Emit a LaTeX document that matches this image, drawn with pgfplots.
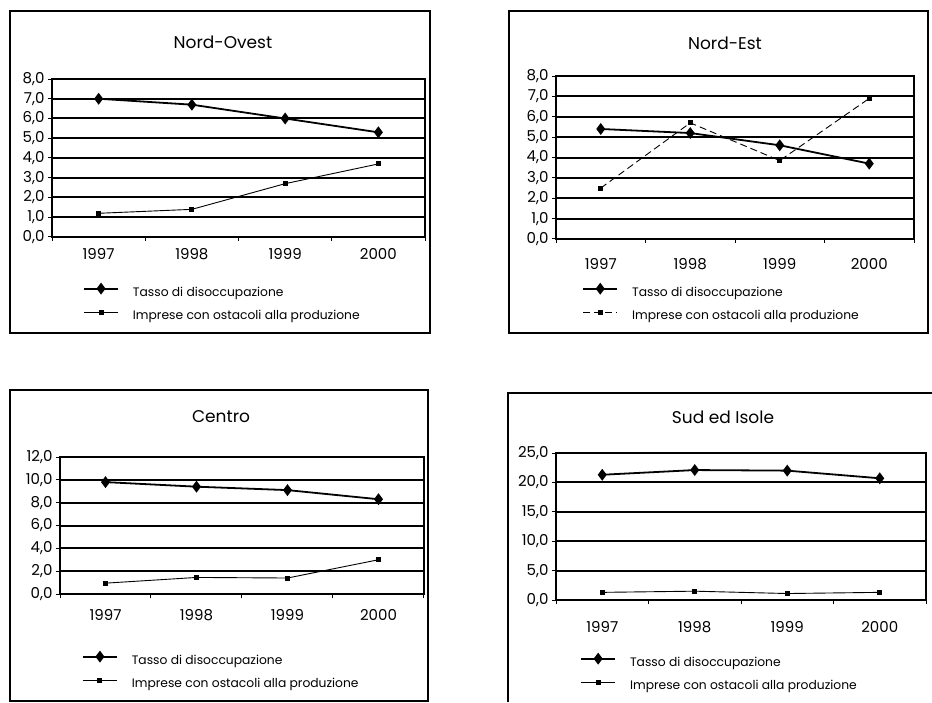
\documentclass[border=0pt]{standalone}
\usepackage{fontspec}
\setmainfont{Poppins}
\usepackage{pgfplots}
\pgfplotsset{compat=1.18}

\pgfplotsset{
  panel/.style={
    scale only axis,
    anchor=south west,
    xmin=-0.5, xmax=3.5,
    ymin=0,
    xtick={-0.5,0.5,1.5,2.5,3.5},
    xticklabels={},
    extra x ticks={0,1,2,3},
    extra x tick labels={1997,1998,1999,2000},
    extra x tick style={major tick length=0pt, grid=none},
    xtick pos=bottom, ytick pos=left,
    tick align=outside,
    major tick length=4pt,
    tick style={black, line width=1pt},
    ymajorgrids,
    major grid style={black, line width=2pt},
    axis line style={black, line width=1.2pt},
    /pgf/number format/assume math mode=true,
    yticklabel style={/pgf/number format/.cd, fixed, fixed zerofill, precision=1, use comma},
    ticklabel style={font=\fontsize{15}{15}\selectfont},
    legend style={draw=none, fill=none, inner sep=0pt, anchor=north west,
      font=\fontsize{12.3}{12.3}\selectfont, column sep=12pt, row sep=9pt},
    legend cell align=left,
    legend image code/.code={
      \draw[mark repeat=2, mark phase=2, #1] plot coordinates {(0pt,3.5pt) (17pt,3.5pt) (34pt,3.5pt)};
    },
  },
  tasso/.style={black, line width=1.8pt, mark=diamond*, mark size=4.5pt, mark options={solid}},
  imprese/.style={black, line width=0.9pt, mark=square*, mark size=2pt, mark options={solid}},
}

\begin{document}
\begin{tikzpicture}[x=1pt, y=1pt]
\path[use as bounding box] (0,0) rectangle (932,702);

% cornici dei quattro riquadri
\draw[line width=1.2pt] (10,369) rectangle (430,691);
\draw[line width=1.2pt] (509,369) rectangle (928,691);
\draw[line width=1.2pt] (10,1) rectangle (428,312);
\draw[line width=1.2pt] (508,0) -- (508,309) -- (932,309);

\node[font=\fontsize{17}{17}\selectfont] at (223,660) {Nord-Ovest};
\node[font=\fontsize{17}{17}\selectfont] at (725,659) {Nord-Est};
\node[font=\fontsize{17}{17}\selectfont] at (221,285) {Centro};
\node[font=\fontsize{17}{17}\selectfont] at (723,285) {Sud ed Isole};

%%% Nord-Ovest
\begin{axis}[panel, at={(52pt,465pt)}, width=373pt, height=158pt,
    ymax=8, ytick={0,1,...,8},
    xticklabel shift=8pt,
    legend style={at={(axis description cs:0.083,-0.297)}}]
\addplot[tasso] coordinates {(0,7.0) (1,6.7) (2,6.0) (3,5.3)};
\addlegendentry{Tasso di disoccupazione}
\addplot[imprese] coordinates {(0,1.2) (1,1.4) (2,2.7) (3,3.7)};
\addlegendentry{Imprese con ostacoli alla produzione}
\end{axis}

%%% Nord-Est
\begin{axis}[panel, at={(556pt,463pt)}, width=358pt, height=163pt,
    ymax=8, ytick={0,1,...,8},
    xticklabel shift=16pt,
    legend style={at={(axis description cs:0.073,-0.276)}}]
\addplot[tasso] coordinates {(0,5.4) (1,5.2) (2,4.6) (3,3.7)};
\addlegendentry{Tasso di disoccupazione}
\addplot[imprese, dash pattern=on 7pt off 4pt] coordinates {(0,2.5) (1,5.7) (2,3.85) (3,6.9)};
\addlegendentry{Imprese con ostacoli alla produzione}
\end{axis}

%%% Centro
\begin{axis}[panel, at={(60pt,108pt)}, width=364pt, height=137pt,
    ymax=12, ytick={0,2,...,12},
    xticklabel shift=12pt,
    legend style={at={(axis description cs:0.060,-0.423)}}]
\addplot[tasso] coordinates {(0,9.8) (1,9.4) (2,9.1) (3,8.3)};
\addlegendentry{Tasso di disoccupazione}
\addplot[imprese] coordinates {(0,0.95) (1,1.45) (2,1.4) (3,3.0)};
\addlegendentry{Imprese con ostacoli alla produzione}
\end{axis}

%%% Sud ed Isole
\begin{axis}[panel, at={(556pt,102pt)}, width=370pt, height=147pt,
    ymax=25, ytick={0,5,...,25},
    xticklabel shift=18pt,
    legend style={at={(axis description cs:0.065,-0.367)}}]
\addplot[tasso] coordinates {(0,21.3) (1,22.1) (2,22.0) (3,20.7)};
\addlegendentry{Tasso di disoccupazione}
\addplot[imprese] coordinates {(0,1.3) (1,1.5) (2,1.1) (3,1.3)};
\addlegendentry{Imprese con ostacoli alla produzione}
\end{axis}
\end{tikzpicture}
\end{document}
